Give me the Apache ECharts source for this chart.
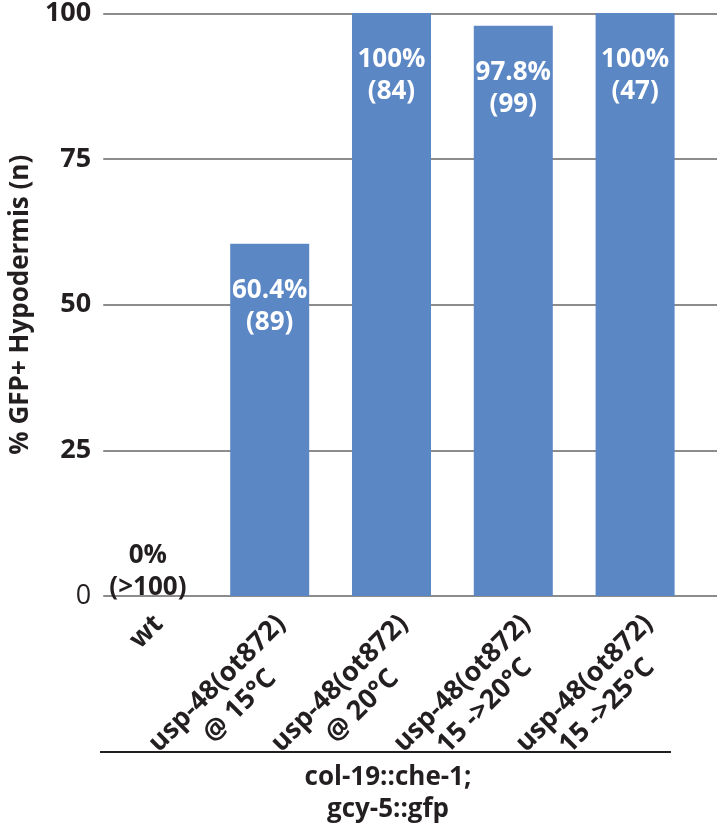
<!DOCTYPE html>
<html>
<head>
<meta charset="utf-8">
<script src="https://cdn.jsdelivr.net/npm/echarts@6/dist/echarts.min.js"></script>
<style>
html,body{margin:0;padding:0;background:#fff;}
#chart{width:721px;height:829px;}
</style>
</head>
<body>
<div id="chart"></div>
<script>
const categories = ['wt', 'usp-48(ot872)\n@ 15°C', 'usp-48(ot872)\n@ 20°C', 'usp-48(ot872)\n15 ->20°C', 'usp-48(ot872)\n15 ->25°C'];
const values = [0, 60.4, 100, 97.8, 100];
const counts = ['>100', '89', '84', '99', '47'];
const yMin = 0, yMax = 100, yStep = 25;
const yTitle = '% GFP+ Hypodermis (n)';
const groupLabel = 'col-19::che-1;\ngcy-5::gfp';

const FONT = '"Open Sans", "Noto Sans", sans-serif';
const TXT = '#231f20';
const BAR = '#5b87c5';
const GRID = '#8c8c8c';

const chart = echarts.init(document.getElementById('chart'), null, {renderer: 'canvas'});

const barData = values.map(function (v, i) {
  const item = {value: v};
  if (v === 0) {
    item.label = {position: 'top', distance: -8, color: TXT};
  }
  return item;
});

const option = {
  animation: false,
  backgroundColor: '#fff',
  grid: [
    {left: 88, right: 4, top: 13, bottom: 233},
    {left: 87, right: 25, top: 13, bottom: 233},
    {left: 109, right: -15, top: 13, bottom: 233}
  ],
  xAxis: [
    {gridIndex: 0, type: 'category', data: categories, show: false},
    {gridIndex: 1, type: 'category', data: categories,
     axisLine: {show: false}, axisTick: {show: false}, axisLabel: {show: false}},
    {gridIndex: 2, type: 'category', data: categories,
     axisLine: {show: false}, axisTick: {show: false},
     axisLabel: {
       interval: 0, rotate: 45, margin: 35,
       formatter: function (v) {
         const lines = v.split('\n');
         if (lines.length === 1) lines.push(' ');
         return lines.map(function (l) { return '{a|' + l + '}'; }).join('\n');
       },
       rich: {
         a: {fontFamily: FONT, fontWeight: 'bold', fontSize: 27, color: TXT, lineHeight: 32, align: 'center'}
       }
     }}
  ],
  yAxis: [
    {gridIndex: 0, type: 'value', min: yMin, max: yMax, interval: yStep,
     axisLine: {show: false}, axisTick: {show: false},
     splitLine: {lineStyle: {color: GRID, width: 2}},
     axisLabel: {
       margin: 12,
       formatter: function (v) { return v === 0 ? '{n|' + v + '}' : '{b|' + v + '}'; },
       rich: {
         b: {fontFamily: FONT, fontWeight: 'bold', fontSize: 27, color: TXT},
         n: {fontFamily: FONT, fontWeight: 'normal', fontSize: 27, color: TXT}
       }
     },
     name: yTitle, nameLocation: 'middle', nameGap: 43,
     nameTextStyle: {fontFamily: FONT, fontWeight: 'bold', fontSize: 26, color: TXT}
    },
    {gridIndex: 1, type: 'value', min: yMin, max: yMax, show: false},
    {gridIndex: 2, type: 'value', min: yMin, max: yMax, show: false}
  ],
  series: [
    {
      type: 'bar', xAxisIndex: 1, yAxisIndex: 1,
      barWidth: 79,
      itemStyle: {color: BAR},
      data: barData,
      label: {
        show: true, position: 'insideTop', distance: 31,
        color: '#fff', fontFamily: FONT, fontWeight: 'bold', fontSize: 26, lineHeight: 32,
        formatter: function (p) { return p.value + '%\n(' + counts[p.dataIndex] + ')'; }
      }
    }
  ],
  graphic: [
    {type: 'line', shape: {x1: 100, y1: 752, x2: 671, y2: 752}, style: {stroke: TXT, lineWidth: 2}},
    {type: 'text', x: 388, y: 794,
     style: {text: groupLabel, fill: TXT, font: 'bold 26px ' + FONT, align: 'center', verticalAlign: 'middle', lineHeight: 32}}
  ]
};

chart.setOption(option);
</script>
</body>
</html>
